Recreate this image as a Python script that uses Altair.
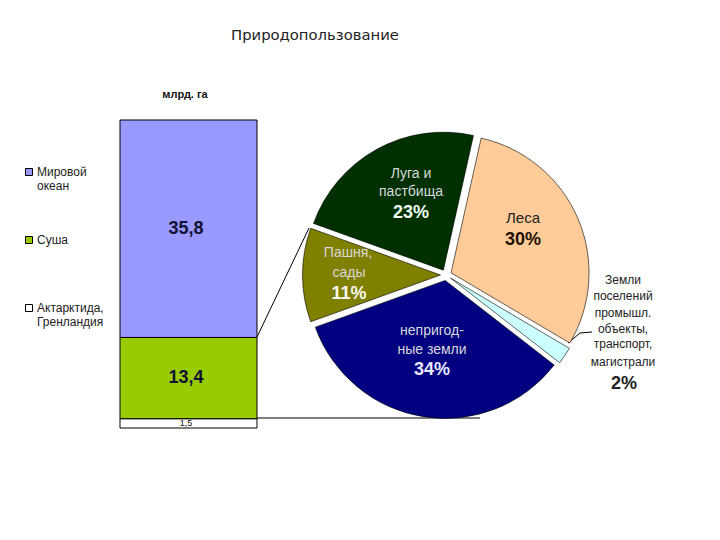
import math
import altair as alt
import pandas as pd

# Left column (billion hectares)
bar_names = ["Мировой|океан", "Суша| ", "Актарктида,|Гренландия"]
bar_values = [35.8, 13.4, 1.5]
bar_labels = ["35,8", "13,4", "1,5"]
bar_colors = ["#9999FF", "#99CC00", "#FFFFFF"]

# Pie (share of land, %), clockwise from the Леса slice
pie_names = ["Леса", "Земли поселений", "непригодные земли", "Пашня, сады", "Луга и пастбища"]
pie_shares = [30, 2, 34, 11, 23]
pie_colors = ["#FFCC99", "#CCFFFF", "#000080", "#808000", "#003000"]

# Layout helpers: everything below is in reference-picture pixels
TOP = 48
LEFT = 8
H = 484
PX_PER_UNIT = 308 / sum(bar_values)
BAR_BOTTOM = 428 - TOP

def X(v):
    return v - LEFT

def Y(v):
    return v - TOP

# Bars
rows = []
upper = sum(bar_values)
for n, v, l in zip(bar_names, bar_values, bar_labels):
    rows.append({"name": n, "top": upper, "bottom": upper - v, "mid": upper - v / 2, "label": l})
    upper -= v
bars_df = pd.DataFrame(rows)

y_scale = alt.Scale(
    domain=[-(H - BAR_BOTTOM) / PX_PER_UNIT, BAR_BOTTOM / PX_PER_UNIT], nice=False, zero=False
)
BAR_FONT = "Liberation Sans"

bars = (
    alt.Chart(bars_df)
    .mark_rect(stroke="black", strokeWidth=1)
    .encode(
        x=alt.value(X(120)),
        x2=alt.value(X(257)),
        y=alt.Y("top:Q", scale=y_scale, axis=None),
        y2="bottom:Q",
        color=alt.Color(
            "name:N",
            scale=alt.Scale(domain=bar_names, range=bar_colors),
            legend=alt.Legend(
                title=None,
                orient="none",
                legendX=X(23),
                legendY=Y(166),
                symbolType="square",
                symbolSize=49,
                symbolStrokeColor="black",
                symbolStrokeWidth=1,
                labelFont=BAR_FONT,
                labelFontSize=12,
                labelColor="#222222",
                labelLimit=120,
                labelOffset=2,
                rowPadding=42,
                labelExpr="split(datum.label,'|')",
                labelBaseline="middle",
            ),
        ),
    )
)

big_labels = (
    alt.Chart(bars_df[bars_df["name"] != bar_names[2]])
    .mark_text(font=BAR_FONT, fontWeight="bold", fontSize=18, color="#111133")
    .encode(x=alt.value(X(186)), y=alt.Y("mid:Q", scale=y_scale, axis=None), text="label:N")
)
small_label = (
    alt.Chart(bars_df[bars_df["name"] == bar_names[2]])
    .mark_text(font=BAR_FONT, fontSize=9, color="#111111")
    .encode(x=alt.value(X(186)), y=alt.Y("mid:Q", scale=y_scale, axis=None), text="label:N")
)

# Pie with every slice pulled out along its own mid-angle
CX, CY, RADIUS, EXPLODE = 446, 275, 138, 5.5
start_angle = math.radians(12.6)
pie_rows = []
angle = start_angle
for n, s, c in zip(pie_names, pie_shares, pie_colors):
    sweep = s / sum(pie_shares) * 2 * math.pi
    mid = angle + sweep / 2
    pie_rows.append(
        {
            "name": n,
            "share": s,
            "color": c,
            "start": angle,
            "end": angle + sweep,
            "px": X(CX) + EXPLODE * math.sin(mid),
            "py": Y(CY) - EXPLODE * math.cos(mid),
        }
    )
    angle += sweep
pie_df = pd.DataFrame(pie_rows)

pie = (
    alt.Chart(pie_df)
    .mark_arc(outerRadius=RADIUS, stroke="black", strokeWidth=0.6)
    .encode(
        x=alt.X("px:Q", scale=None, axis=None),
        y=alt.Y("py:Q", scale=None, axis=None),
        theta=alt.Theta("start:Q", scale=None),
        theta2="end:Q",
        color=alt.Color("color:N", scale=None),
        tooltip=["name:N", "share:Q"],
    )
)

# Connectors between the column and the pie, and the leader of the 2 % label
segments = [
    (257, 337, 309, 228),
    (257, 418, 480, 418),
    (568, 343, 580, 333),
    (580, 333, 592, 332),
]

def segment(x1, y1, x2, y2):
    return (
        alt.Chart(pd.DataFrame({"k": [0]}))
        .mark_rule(color="black", strokeWidth=1)
        .encode(
            x=alt.value(X(x1)), y=alt.value(Y(y1)), x2=alt.value(X(x2)), y2=alt.value(Y(y2))
        )
    )

def note(text, x, y, size, color, weight="normal", font=BAR_FONT):
    return (
        alt.Chart(pd.DataFrame({"t": [text]}))
        .mark_text(font=font, fontSize=size, color=color, fontWeight=weight)
        .encode(x=alt.value(X(x)), y=alt.value(Y(y)), text="t:N")
    )

LIGHT = "#D8D8D8"
notes = [
    note("млрд. га", 185, 95, 11, "#111111", "bold"),
    note("Луга и", 411, 174, 14, LIGHT),
    note("пастбища", 411, 192, 14, LIGHT),
    note("23%", 411, 213, 18, "#F4FFF4", "bold"),
    note("Леса", 523, 218, 15, "#222222"),
    note("30%", 523, 240, 18, "#221100", "bold"),
    note("Пашня,", 348, 253, 14, LIGHT),
    note("сады", 349, 273, 14, LIGHT),
    note("11%", 349, 294, 18, "#F8F8F0", "bold"),
    note("непригод-", 432, 331, 14, LIGHT),
    note("ные земли", 432, 350, 14, LIGHT),
    note("34%", 432, 370, 18, "#E8E8FF", "bold"),
    note("Земли", 623, 280, 12, "#222222"),
    note("поселений", 623, 296, 12, "#222222"),
    note("промышл.", 623, 313, 12, "#222222"),
    note("объекты,", 623, 329, 12, "#222222"),
    note("транспорт,", 623, 344, 12, "#222222"),
    note("магистрали", 623, 362, 12, "#222222"),
    note("2%", 624, 384, 18, "#222222", "bold"),
]

chart = (
    alt.layer(
        *[segment(*s) for s in segments],
        bars,
        pie,
        big_labels,
        small_label,
        *notes,
    )
    .resolve_scale(x="independent", y="independent", color="independent")
    .properties(
        width=704,
        height=H,
        padding={"left": 0, "right": 0, "top": TOP - 8, "bottom": 0},
        autosize=alt.AutoSizeParams(type="none"),
        title=alt.TitleParams(
            "Природопользование",
            anchor="start",
            dx=X(231),
            offset=5,
            font="DejaVu Sans",
            fontSize=14.8,
            fontWeight="normal",
            color="#222222",
        ),
    )
    .configure_view(stroke=None)
)

chart.save("out.html", embed_options={"renderer": "svg", "actions": False})
